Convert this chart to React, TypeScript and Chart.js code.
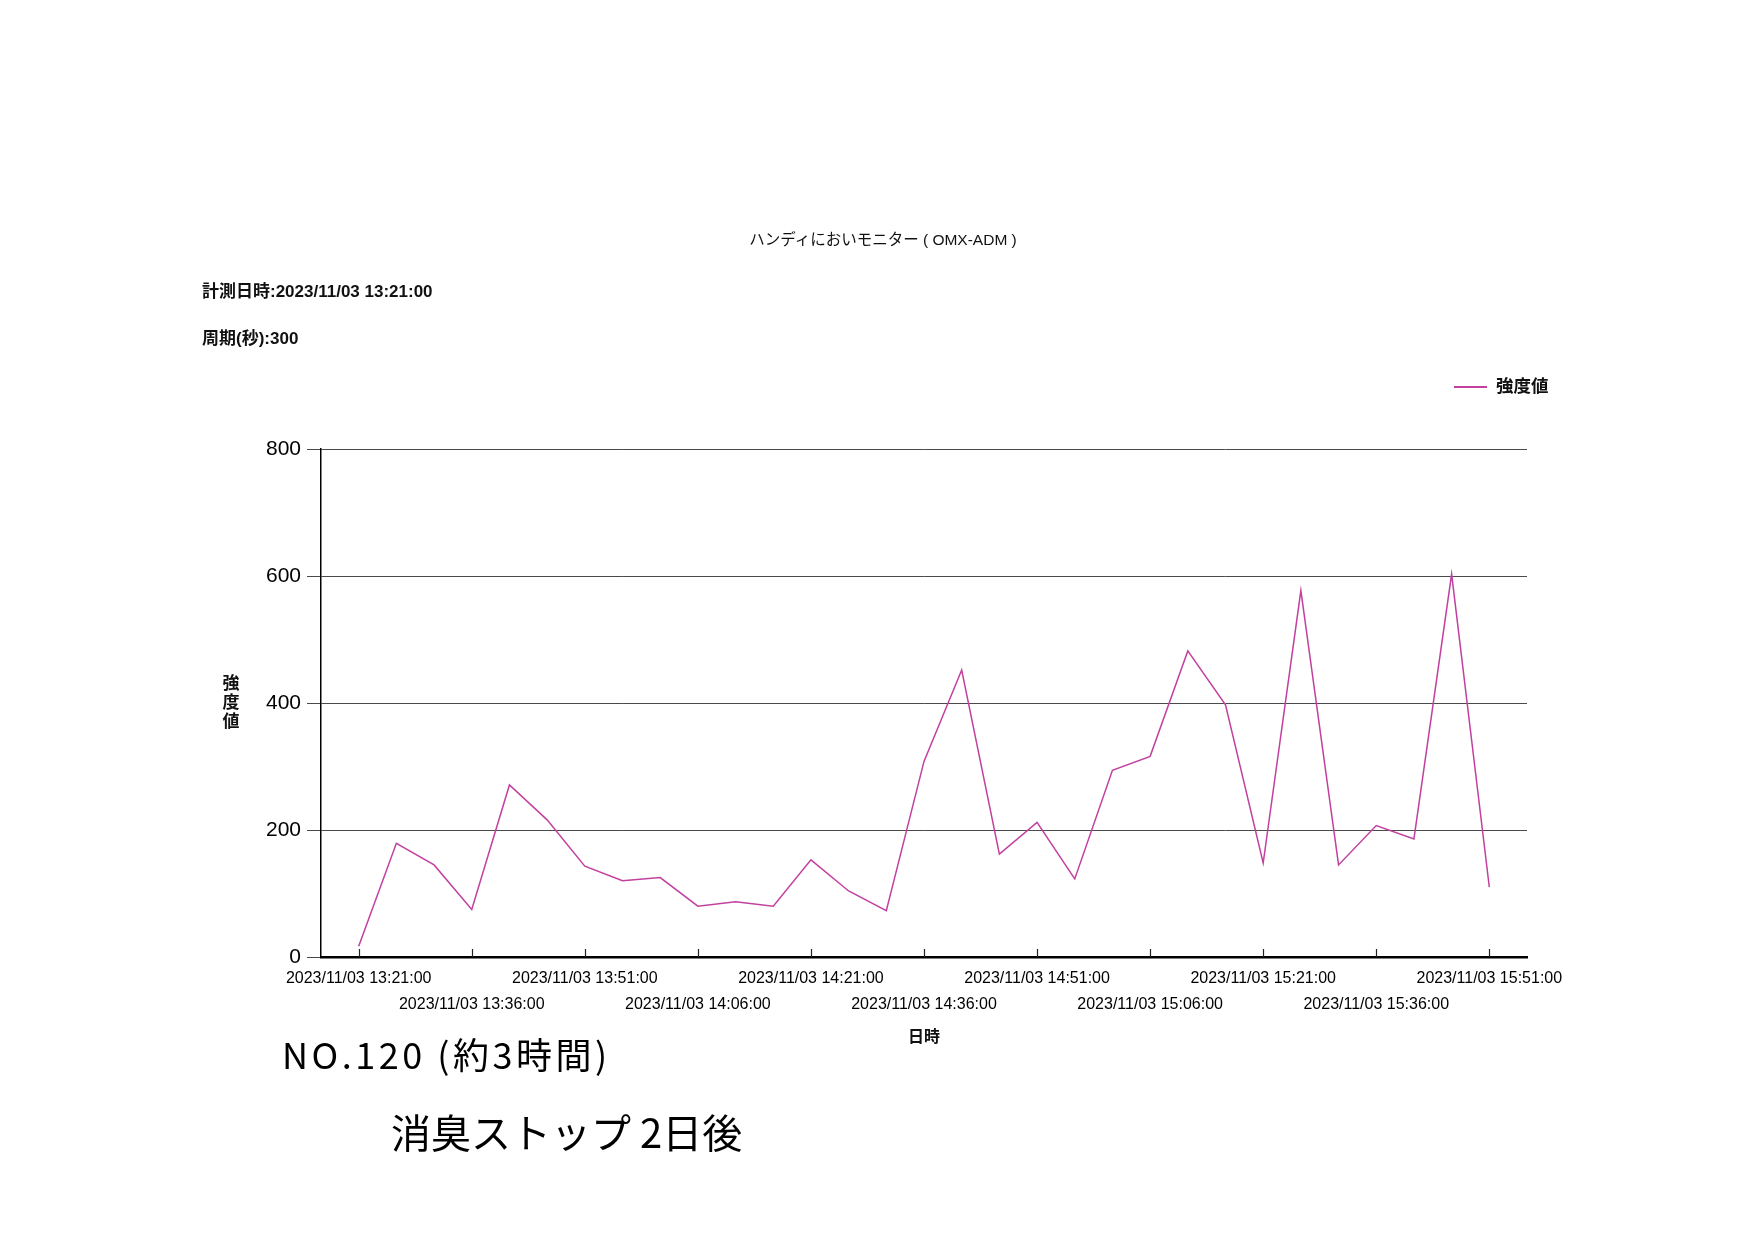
import React, { useEffect, useRef } from 'react';
import { Chart, registerables } from 'chart.js';

Chart.register(...registerables);

// ---- data ----
const categories = [
  '2023/11/03 13:21:00', '2023/11/03 13:26:00', '2023/11/03 13:31:00', '2023/11/03 13:36:00',
  '2023/11/03 13:41:00', '2023/11/03 13:46:00', '2023/11/03 13:51:00', '2023/11/03 13:56:00',
  '2023/11/03 14:01:00', '2023/11/03 14:06:00', '2023/11/03 14:11:00', '2023/11/03 14:16:00',
  '2023/11/03 14:21:00', '2023/11/03 14:26:00', '2023/11/03 14:31:00', '2023/11/03 14:36:00',
  '2023/11/03 14:41:00', '2023/11/03 14:46:00', '2023/11/03 14:51:00', '2023/11/03 14:56:00',
  '2023/11/03 15:01:00', '2023/11/03 15:06:00', '2023/11/03 15:11:00', '2023/11/03 15:16:00',
  '2023/11/03 15:21:00', '2023/11/03 15:26:00', '2023/11/03 15:31:00', '2023/11/03 15:36:00',
  '2023/11/03 15:41:00', '2023/11/03 15:46:00', '2023/11/03 15:51:00',
];

const intensity = [
  17, 179, 145, 75, 271, 216, 143, 120, 125, 80, 87, 80, 153, 104, 73, 308,
  452, 162, 212, 123, 294, 316, 482, 397, 148, 577, 145, 207, 186, 603, 110,
];

const tickLabels = [
  '2023/11/03 13:21:00', '2023/11/03 13:36:00', '2023/11/03 13:51:00', '2023/11/03 14:06:00',
  '2023/11/03 14:21:00', '2023/11/03 14:36:00', '2023/11/03 14:51:00', '2023/11/03 15:06:00',
  '2023/11/03 15:21:00', '2023/11/03 15:36:00', '2023/11/03 15:51:00',
];

const yTicks = [0, 200, 400, 600, 800];

const seriesLabel = '強度値';
const chartTitle = 'ハンディにおいモニター ( OMX-ADM )';
const measuredAt = '計測日時:2023/11/03 13:21:00';
const period = '周期(秒):300';
const xTitle = '日時';
const note1 = 'NO.120 (約3時間)';
const note2 = '消臭ストップ 2日後';

// ---- layout / style ----
const W = 1753;
const H = 1240;
const AREA_LEFT = 321;
const AREA_RIGHT = 1527;
const AREA_TOP = 449;
const AREA_BOTTOM = 957;
const Y_AXIS_W = 60;
const X_AXIS_H = 90;
const LINE_COLOR = '#c2409f';
const FONT = '"Liberation Sans", Arial, "Noto Sans CJK JP", sans-serif';

const xTickMarks = {
  id: 'xTickMarks',
  afterDatasetsDraw(chart: any) {
    const s = chart.scales.x;
    const ctx = chart.ctx;
    const b = chart.chartArea.bottom;
    ctx.save();
    ctx.strokeStyle = '#222';
    ctx.lineWidth = 1.2;
    s.ticks.forEach((t: any) => {
      const px = Math.round(s.getPixelForValue(t.value)) + 0.5;
      ctx.beginPath();
      ctx.moveTo(px, b);
      ctx.lineTo(px, b - 8);
      ctx.stroke();
    });
    ctx.restore();
  },
};

export default function App() {
  const canvasRef = useRef<HTMLCanvasElement | null>(null);

  useEffect(() => {
    const canvas = canvasRef.current;
    if (!canvas) return;
    const chart = new Chart(canvas, {
      type: 'line',
      data: {
        datasets: [
          {
            label: seriesLabel,
            data: intensity.map((v, i) => ({ x: i, y: v })),
            borderColor: LINE_COLOR,
            backgroundColor: LINE_COLOR,
            borderWidth: 1.5,
            pointRadius: 0,
            tension: 0,
            fill: false,
          },
        ],
      },
      options: {
        animation: false,
        responsive: false,
        maintainAspectRatio: false,
        devicePixelRatio: 1,
        layout: {
          padding: {
            left: AREA_LEFT - Y_AXIS_W,
            top: AREA_TOP,
            right: W - AREA_RIGHT,
            bottom: H - AREA_BOTTOM - X_AXIS_H,
          },
        },
        plugins: {
          legend: { display: false },
          tooltip: { enabled: false },
          title: { display: false },
        },
        scales: {
          x: {
            type: 'linear',
            min: -1,
            max: categories.length,
            afterBuildTicks: (s: any) => {
              s.ticks = tickLabels.map((l) => ({ value: categories.indexOf(l) }));
            },
            afterFit: (s: any) => {
              s.height = X_AXIS_H;
            },
            grid: { display: false, drawTicks: false },
            border: { display: true, color: '#000', width: 2.5 },
            ticks: {
              autoSkip: false,
              maxRotation: 0,
              minRotation: 0,
              padding: 8,
              color: '#000',
              font: { family: FONT, size: 16, lineHeight: 1.67 },
              callback: (v: any, i: number) =>
                i % 2 === 0 ? [categories[v], ''] : ['', categories[v]],
            },
            title: {
              display: true,
              text: xTitle,
              color: '#111',
              padding: { top: 0, bottom: 0 },
              font: { family: FONT, size: 16, weight: 'bold', lineHeight: 1.2 },
            },
          },
          y: {
            type: 'linear',
            min: 0,
            max: 800,
            afterBuildTicks: (s: any) => {
              s.ticks = yTicks.map((v) => ({ value: v }));
            },
            afterFit: (s: any) => {
              s.width = Y_AXIS_W;
            },
            grid: { color: '#4a4a4a', lineWidth: 1, tickLength: 14, drawTicks: true },
            border: { display: true, color: '#000', width: 1.5 },
            ticks: {
              padding: 6,
              color: '#000',
              font: { family: FONT, size: 21 },
            },
          },
        },
      },
      plugins: [xTickMarks],
    } as any);
    return () => chart.destroy();
  }, []);

  const text = (style: React.CSSProperties, content: string) => (
    <div
      style={{
        position: 'absolute',
        whiteSpace: 'nowrap',
        fontFamily: FONT,
        color: '#111',
        lineHeight: 1,
        ...style,
      }}
    >
      {content}
    </div>
  );

  return (
    <div
      style={{
        position: 'absolute',
        left: 0,
        top: 0,
        width: W,
        height: H,
        background: '#fff',
        overflow: 'hidden',
      }}
    >
      <canvas
        ref={canvasRef}
        width={W}
        height={H}
        style={{ position: 'absolute', left: 0, top: 0, width: W, height: H }}
      />
      {text({ left: 883, top: 240, transform: 'translate(-50%, -50%)', fontSize: 15.5 }, chartTitle)}
      {text({ left: 202, top: 291, transform: 'translateY(-50%)', fontSize: 17, fontWeight: 'bold' }, measuredAt)}
      {text({ left: 202, top: 338, transform: 'translateY(-50%)', fontSize: 17, fontWeight: 'bold' }, period)}
      {/* legend */}
      <div
        style={{
          position: 'absolute',
          left: 1454,
          top: 387,
          width: 33,
          height: 2,
          background: LINE_COLOR,
          transform: 'translateY(-50%)',
        }}
      />
      {text({ left: 1496, top: 387, transform: 'translateY(-50%)', fontSize: 17.5, fontWeight: 'bold' }, seriesLabel)}
      {/* y axis title, stacked characters */}
      <div
        style={{
          position: 'absolute',
          left: 231,
          top: 702,
          transform: 'translate(-50%, -50%)',
          fontFamily: FONT,
          fontSize: 17,
          fontWeight: 'bold',
          lineHeight: '19px',
          color: '#111',
          textAlign: 'center',
          width: 20,
        }}
      >
        {seriesLabel.split('').map((c, i) => (
          <div key={i}>{c}</div>
        ))}
      </div>
      {/* handwritten notes */}
      {text(
        {
          left: 282,
          top: 1053,
          transform: 'translateY(-50%)',
          fontSize: 36,
          letterSpacing: 3.5,
          color: '#000',
          fontFamily: '"Noto Sans CJK JP", sans-serif',
        },
        note1,
      )}
      {text(
        {
          left: 391,
          top: 1131,
          transform: 'translateY(-50%)',
          fontSize: 40,
          color: '#000',
          fontFamily: '"Noto Sans CJK JP", sans-serif',
        },
        note2,
      )}
    </div>
  );
}
